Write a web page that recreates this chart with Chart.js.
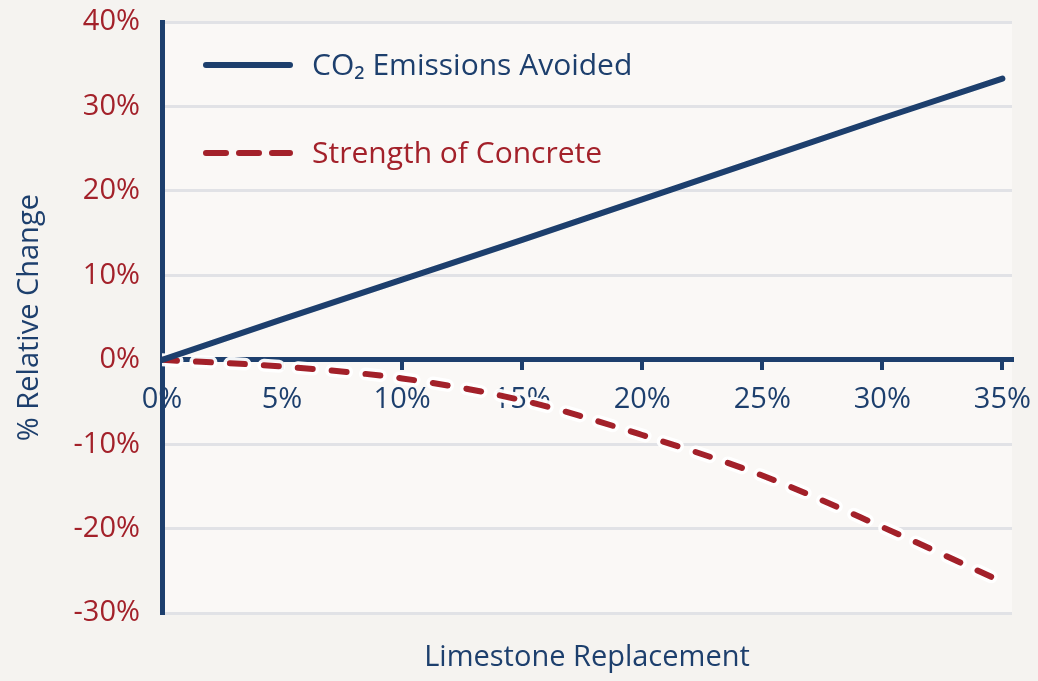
<!DOCTYPE html>
<html>
<head>
<meta charset="utf-8">
<title>Limestone Replacement</title>
<script src="https://cdn.jsdelivr.net/npm/chart.js@4.4.1/dist/chart.umd.min.js"></script>
<style>
    html, body { margin: 0; padding: 0; background: #f6f4f1; }
    #chart-wrap { width: 1038px; height: 681px; }
</style>
</head>
<body>
<div id="chart-wrap"><canvas id="limestone-chart" width="1038" height="681"></canvas></div>
<script>
// --- DATOS ---
const replacementPct = [0, 5, 10, 15, 20, 25, 30, 35];
const co2Avoided = [0, 4.8, 9.5, 14.2, 19.0, 23.8, 28.6, 33.3];
const concreteStrength = [0, -0.8, -2.2, -4.8, -8.9, -13.7, -19.8, -26.3];
const xTickValues = [0, 5, 10, 15, 20, 25, 30, 35];
const yTickValues = [-30, -20, -10, 0, 10, 20, 30, 40];

const seriesLabels = ['CO\u2082 Emissions Avoided', 'Strength of Concrete'];

// --- ESTILOS ---
const navy = '#1d3f6d';
const red = '#a3212a';
const gridGray = '#e1e2e6';
const fontFamily = "'Open Sans', 'DejaVu Sans', sans-serif";

function toPoints(xs, ys) {
    return xs.map((x, i) => ({ x: x, y: ys[i] }));
}

// fondo
const backgroundPlugin = {
    id: 'fondo',
    beforeDraw(chart) {
        const { ctx, chartArea } = chart;
        ctx.save();
        ctx.fillStyle = '#f5f3f0';
        ctx.fillRect(0, 0, chart.width, chart.height);
        ctx.fillStyle = '#faf8f6';
        ctx.fillRect(chartArea.left, chartArea.top, chartArea.right - chartArea.left, chartArea.bottom - chartArea.top);
        ctx.restore();
    }
};

// leyenda dibujada dentro del area del grafico
const legendPlugin = {
    id: 'leyendaInterna',
    afterDraw(chart) {
        const ctx = chart.ctx;
        const items = [
            { label: seriesLabels[0], color: navy, dash: [], y: 65 },
            { label: seriesLabels[1], color: red, dash: [20, 13], y: 153 }
        ];
        ctx.save();
        items.forEach(item => {
            ctx.beginPath();
            ctx.setLineDash(item.dash);
            ctx.lineCap = 'round';
            ctx.lineWidth = 6;
            ctx.strokeStyle = item.color;
            ctx.moveTo(206, item.y);
            ctx.lineTo(290, item.y);
            ctx.stroke();
            ctx.setLineDash([]);
            ctx.fillStyle = item.color;
            ctx.font = '30px ' + fontFamily;
            ctx.textBaseline = 'middle';
            ctx.textAlign = 'left';
            ctx.fillText(item.label, 312, item.y + 1);
        });
        ctx.restore();
    }
};

const ctx = document.getElementById('limestone-chart').getContext('2d');
const chart = new Chart(ctx, {
    type: 'line',
    data: {
        datasets: [
            {
                label: seriesLabels[0],
                data: toPoints(replacementPct, co2Avoided),
                borderColor: navy,
                borderWidth: 6,
                borderCapStyle: 'round',
                pointRadius: 0,
                order: 0
            },
            {
                label: seriesLabels[1],
                data: toPoints(replacementPct, concreteStrength),
                borderColor: red,
                borderWidth: 6,
                borderDash: [15, 19],
                borderCapStyle: 'round',
                cubicInterpolationMode: 'monotone',
                pointRadius: 0,
                order: 1
            },
            {
                // halo blanco debajo de la linea discontinua
                label: 'halo',
                data: toPoints(replacementPct, concreteStrength),
                borderColor: 'rgba(255,255,255,0.95)',
                borderWidth: 13,
                borderDash: [15, 19],
                borderCapStyle: 'round',
                cubicInterpolationMode: 'monotone',
                pointRadius: 0,
                order: 2
            }
        ]
    },
    options: {
        responsive: false,
        animation: false,
        layout: { padding: { top: 22, right: 26, bottom: 0, left: 0 } },
        plugins: {
            legend: { display: false },
            tooltip: { enabled: false },
            title: {
                display: true,
                position: 'bottom',
                fullSize: false,
                text: 'Limestone Replacement',
                color: navy,
                font: { family: fontFamily, size: 29, weight: 'normal' },
                padding: { top: 27, bottom: 6 }
            }
        },
        scales: {
            x: {
                type: 'linear',
                position: { y: 0 },
                min: 0,
                max: 35.4,
                afterBuildTicks: scale => { scale.ticks = xTickValues.map(v => ({ value: v })); },
                afterFit: scale => { scale.paddingLeft = 0; scale.paddingRight = 0; },
                border: { display: true, color: navy, width: 5 },
                grid: { drawOnChartArea: false, color: navy, lineWidth: 4, tickLength: 8 },
                ticks: {
                    color: navy,
                    padding: 15,
                    font: { family: fontFamily, size: 29 },
                    callback: v => v + '%'
                }
            },
            y: {
                type: 'linear',
                min: -30,
                max: 40,
                afterBuildTicks: scale => { scale.ticks = yTickValues.map(v => ({ value: v })); },
                afterFit: scale => { scale.width = 162; scale.paddingTop = 0; scale.paddingBottom = 0; },
                border: { display: true, color: navy, width: 5 },
                grid: {
                    drawTicks: false,
                    lineWidth: 3,
                    color: c => (c.tick && c.tick.value === 0) ? 'rgba(0,0,0,0)' : gridGray
                },
                ticks: {
                    color: red,
                    padding: 22,
                    font: { family: fontFamily, size: 29 },
                    callback: v => v + '%'
                },
                title: {
                    display: true,
                    text: '% Relative Change',
                    color: navy,
                    font: { family: fontFamily, size: 29, weight: 'normal' },
                    padding: { top: 12, bottom: 0 }
                }
            }
        }
    },
    plugins: [backgroundPlugin, legendPlugin]
});
</script>
</body>
</html>
